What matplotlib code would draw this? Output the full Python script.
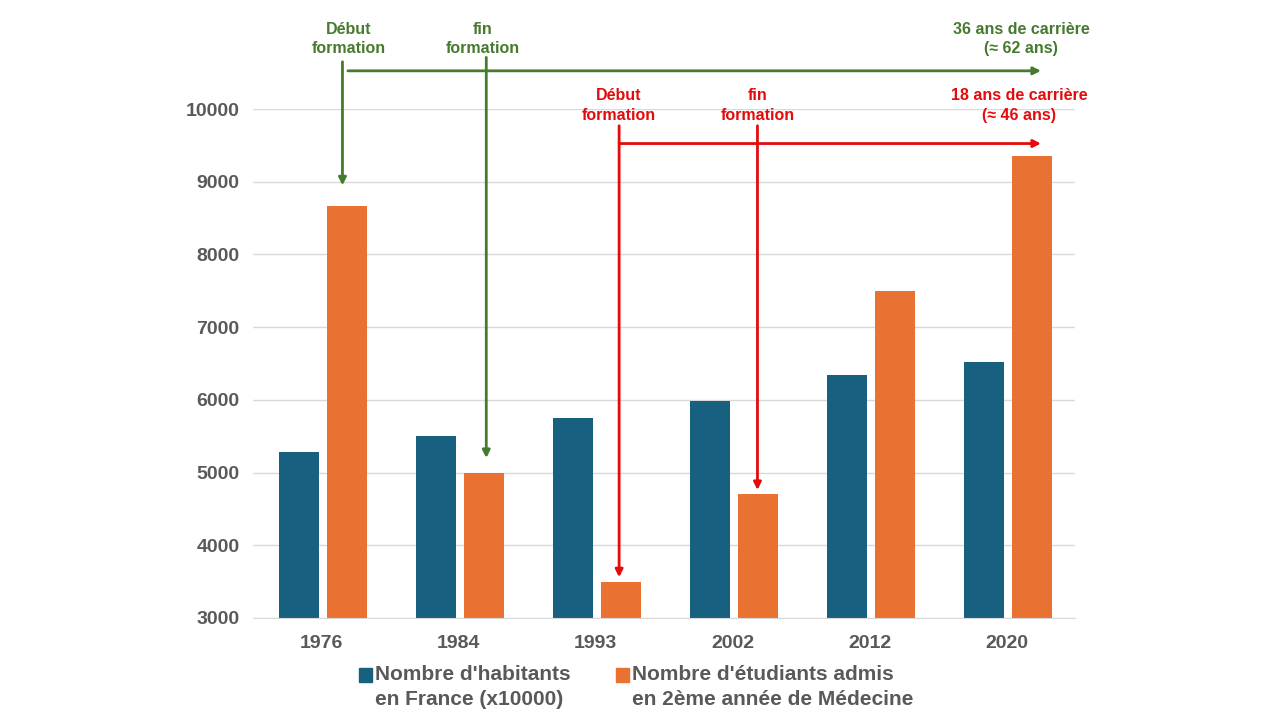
import numpy as np
import matplotlib
matplotlib.use('Agg')
import matplotlib.pyplot as plt
from matplotlib.patches import Rectangle

plt.rcParams['font.family'] = ['Liberation Sans', 'DejaVu Sans']

# data
annees = ['1976', '1984', '1993', '2002', '2012', '2020']
habitants = [5280, 5500, 5755, 5990, 6345, 6525]   # x10000
etudiants = [8670, 5000, 3500, 4700, 7500, 9350]

label_hab = "Nombre d'habitants\nen France (x10000)"
label_etu = "Nombre d'étudiants admis\nen 2ème année de Médecine"

bleu = '#17607F'
orange = '#E97132'
vert = '#467A2E'
rouge = '#E30B0B'
gris = '#595959'

fig = plt.figure(figsize=(12.8, 7.2), dpi=100)
ax = fig.add_axes([0.198, 0.1417, 0.642, 0.7069])

x = np.arange(len(annees))
w = 0.29
gap = 0.06
ax.bar(x - (w + gap) / 2 + 0.008, habitants, width=w, color=bleu, zorder=2)
ax.bar(x + (w + gap) / 2 + 0.008, etudiants, width=w, color=orange, zorder=2)

ax.set_xlim(-0.5, 5.5)
ax.set_ylim(3000, 10000)
ax.set_yticks(np.arange(3000, 10001, 1000))
ax.set_xticks(x)
ax.set_xticklabels(annees)
ax.grid(axis='y', color='#D9D9D9', lw=1, zorder=0)
for s in ['top', 'right', 'left']:
    ax.spines[s].set_visible(False)
ax.spines['bottom'].set_color('#D9D9D9')
ax.tick_params(axis='both', length=0, labelsize=14, labelcolor=gris)
ax.tick_params(axis='x', pad=12)
ax.tick_params(axis='y', pad=10)
for t in ax.get_xticklabels() + ax.get_yticklabels():
    t.set_fontweight('bold')

def fleche(x0, y0, x1, y1, c, head=True):
    ax.annotate('', xy=(x1, y1), xytext=(x0, y0), xycoords='data', annotation_clip=False,
                arrowprops=dict(arrowstyle='-|>' if head else '-', color=c, lw=2,
                                mutation_scale=11, shrinkA=0, shrinkB=0))

# parcours 36 ans (vert)
fleche(0.15, 10650, 0.15, 8950, vert)
fleche(0.19, 10525, 5.25, 10525, vert)
fleche(1.20, 10710, 1.20, 5200, vert)
# parcours 18 ans (rouge)
fleche(2.17, 9770, 2.17, 3560, rouge)
fleche(2.17, 9525, 5.25, 9525, rouge)
fleche(3.18, 9770, 3.18, 4760, rouge)

txt = dict(ha='center', va='center', fontsize=11.5, fontweight='bold', linespacing=1.37,
           annotation_clip=False)
ax.annotate('Début\nformation', xy=(0.195, 10960), color=vert, **txt)
ax.annotate('fin\nformation', xy=(1.174, 10960), color=vert, **txt)
ax.annotate('36 ans de carrière\n(≈ 62 ans)', xy=(5.107, 10965), color=vert, **txt)
ax.annotate('Début\nformation', xy=(2.17, 10047), color=rouge, **txt)
ax.annotate('fin\nformation', xy=(3.18, 10047), color=rouge, **txt)
ax.annotate('18 ans de carrière\n(≈ 46 ans)', xy=(5.09, 10047), color=rouge, **txt)

# legende
for xr, c, lab in [(359, bleu, label_hab), (616, orange, label_etu)]:
    fig.add_artist(Rectangle((xr / 1280, 1 - 682 / 720), 13 / 1280, 14 / 720, color=c,
                             transform=fig.transFigure))
    fig.text((xr + 16) / 1280, 1 - 687 / 720, lab, ha='left', va='center', fontsize=15,
             fontweight='bold', color=gris, linespacing=1.4)

fig.savefig('out.png', dpi=100)
